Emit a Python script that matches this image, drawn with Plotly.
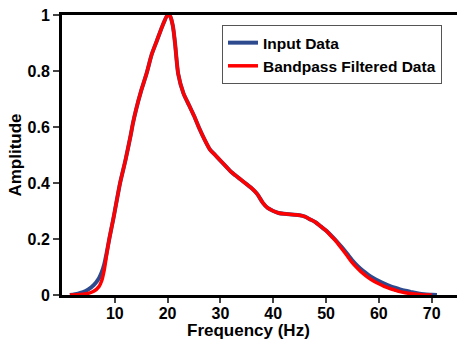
import plotly.graph_objects as go

freq_red = [1.5, 3, 4, 5, 6, 7, 7.5, 8, 8.5, 9, 9.7, 10, 11, 12, 13, 13.4, 14, 15, 16, 16.7, 17, 18, 19, 20, 20.5,
            21, 21.4, 22, 23, 24, 25, 26, 27, 28, 29, 30, 31, 32, 33, 34, 35, 36, 37, 38, 39, 40, 41, 42, 43, 44,
            45, 46, 47, 48, 49, 50, 51, 52, 53, 54, 55, 56, 57, 58, 59, 60, 61, 62, 63, 64, 65, 66, 67, 68, 69, 70]
amp_red = [0, 0.001, 0.003, 0.006, 0.013, 0.03, 0.05, 0.09, 0.15, 0.205, 0.27, 0.30, 0.40, 0.48, 0.57, 0.61, 0.66,
           0.73, 0.79, 0.84, 0.86, 0.91, 0.96, 1.0, 0.995, 0.96, 0.90, 0.79, 0.72, 0.68, 0.64, 0.595, 0.555, 0.52,
           0.50, 0.48, 0.46, 0.44, 0.425, 0.41, 0.395, 0.38, 0.36, 0.33, 0.31, 0.30, 0.293, 0.29, 0.288, 0.287,
           0.285, 0.28, 0.27, 0.26, 0.245, 0.23, 0.21, 0.19, 0.165, 0.14, 0.115, 0.095, 0.077, 0.062, 0.05, 0.04,
           0.031, 0.024, 0.018, 0.012, 0.008, 0.005, 0.003, 0.001, 0, 0]

freq_blue = [1.5, 3, 4, 5, 6, 7, 7.5, 8, 8.5, 9, 9.7, 10, 11, 12, 13, 13.4, 14, 15, 16, 16.7, 17, 18, 19, 20, 20.5,
             21, 21.4, 22, 23, 24, 25, 26, 27, 28, 29, 30, 31, 32, 33, 34, 35, 36, 37, 38, 39, 40, 41, 42, 43, 44,
             45, 46, 47, 48, 49, 50, 51, 52, 53, 54, 55, 56, 57, 58, 59, 60, 61, 62, 63, 64, 65, 66, 67, 68, 69, 70, 71]
amp_blue = [0, 0.005, 0.01, 0.02, 0.035, 0.06, 0.08, 0.11, 0.155, 0.205, 0.27, 0.30, 0.40, 0.48, 0.57, 0.61, 0.66,
            0.73, 0.79, 0.84, 0.86, 0.91, 0.96, 1.0, 0.995, 0.96, 0.90, 0.79, 0.72, 0.68, 0.64, 0.595, 0.555, 0.52,
            0.50, 0.48, 0.46, 0.44, 0.425, 0.41, 0.395, 0.38, 0.36, 0.33, 0.31, 0.30, 0.293, 0.29, 0.288, 0.287,
            0.285, 0.28, 0.27, 0.26, 0.245, 0.23, 0.212, 0.192, 0.17, 0.147, 0.123, 0.103, 0.086, 0.072, 0.06, 0.05,
            0.041, 0.033, 0.026, 0.02, 0.015, 0.011, 0.007, 0.004, 0.002, 0.001, 0]

x_ticks = [10, 20, 30, 40, 50, 60, 70]
y_ticks = [0, 0.2, 0.4, 0.6, 0.8, 1]

FONT = "Liberation Sans, Arial, sans-serif"

fig = go.Figure()
fig.add_trace(go.Scatter(x=freq_blue, y=amp_blue, mode="lines", name="Input Data",
                         line=dict(color="#2E4A8E", width=4, shape="spline", smoothing=0.6)))
fig.add_trace(go.Scatter(x=freq_red, y=amp_red, mode="lines", name="Bandpass Filtered Data",
                         line=dict(color="#FF0000", width=3.5, shape="spline", smoothing=0.6)))

fig.update_layout(
    width=457, height=343,
    margin=dict(l=62, r=0, t=15, b=48),
    plot_bgcolor="white", paper_bgcolor="white",
    font=dict(family=FONT, color="black", size=16),
    legend=dict(x=0.405, y=0.964, xanchor="left", yanchor="top",
                bordercolor="#555555", borderwidth=1, bgcolor="white",
                font=dict(size=15.5, weight="bold", family=FONT), tracegroupgap=0,
                itemwidth=30),
    showlegend=True,
    annotations=[dict(text="Frequency (Hz)", xref="paper", yref="paper", x=0.472, y=-0.128,
                      xanchor="center", yanchor="middle", showarrow=False,
                      font=dict(size=17, weight="bold", family=FONT))],
)
fig.update_xaxes(range=[0, 74.8], tickvals=x_ticks, ticks="outside", ticklen=5, tickwidth=2,
                 showline=True, linewidth=3, linecolor="black", mirror=True, showgrid=False,
                 zeroline=False, tickfont=dict(size=16, weight="bold"), ticklabelstandoff=-3)
fig.update_yaxes(range=[0, 1], tickvals=y_ticks, ticks="outside", ticklen=6, tickwidth=2,
                 showline=True, linewidth=3, linecolor="black", showgrid=False,
                 zeroline=False, tickfont=dict(size=16, weight="bold"),
                 title=dict(text="Amplitude", font=dict(size=17, weight="bold"), standoff=2))

fig.write_html("out.html")
